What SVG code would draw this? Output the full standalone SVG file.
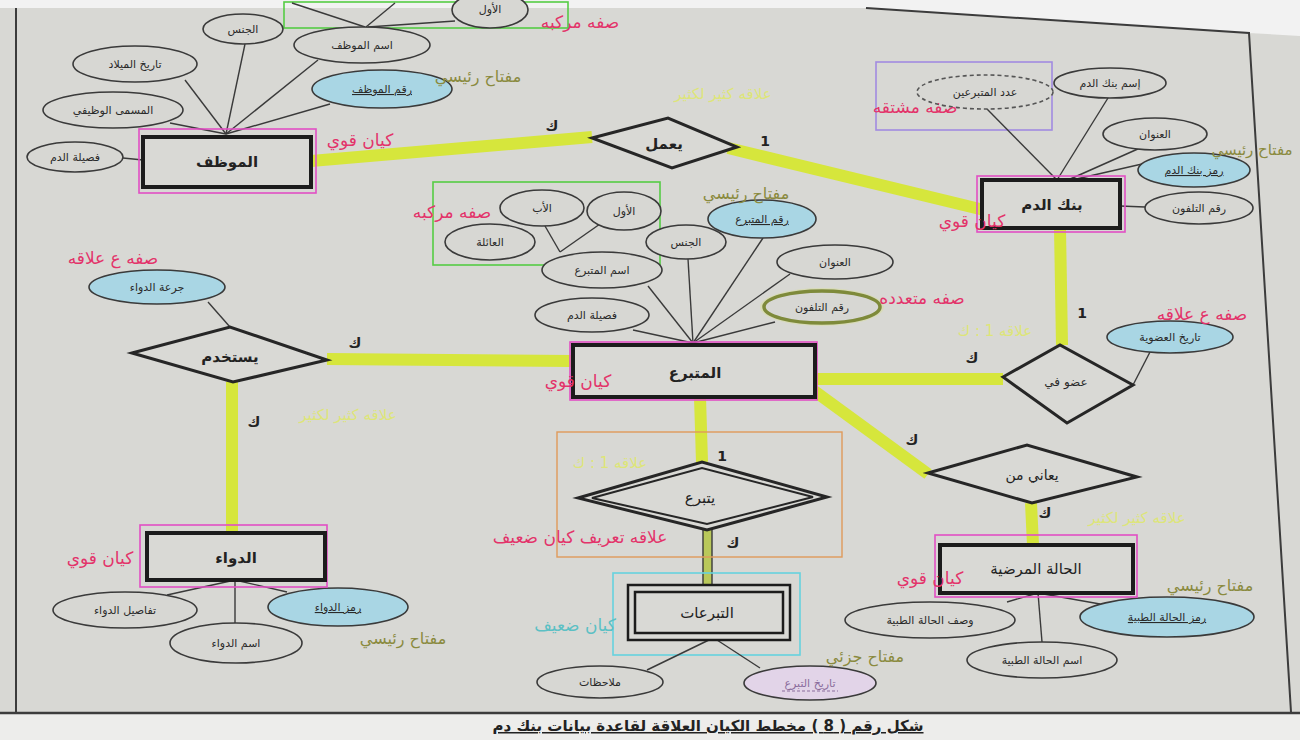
<svg xmlns="http://www.w3.org/2000/svg" width="1300" height="740" viewBox="0 0 1300 740">
<style>
.attr{fill:#d7d7d3;stroke:#3a3a3a;stroke-width:1.6}
.key{fill:#a9d6e4;stroke:#3a3a3a;stroke-width:1.6}
.ent{fill:#d9d9d5;stroke:#1c1c1c;stroke-width:4}
.rel{fill:#d9d9d5;stroke:#262626;stroke-width:3}
.ln{stroke:#3a3a3a;stroke-width:1.4;fill:none}
.conn{stroke:#d6e63c;stroke-width:12;fill:none}
.t{font-family:"DejaVu Sans",sans-serif;text-anchor:middle}
.al{font-size:11px;fill:#2a2a2a}
.el{font-size:15px;font-weight:bold;fill:#222}
.card{font-size:14px;font-weight:bold;fill:#222}
.red{font-size:17px;fill:#e3336a}
.olive{font-size:16px;fill:#8a8a3e}
.yl{font-size:15px;fill:#dfe86a;opacity:.85}
.pink{fill:none;stroke:#e24fc4;stroke-width:1.6}
.u{text-decoration:underline}
</style>
<rect x="0" y="0" width="1300" height="740" fill="#d8d8d4"/>
<polygon points="0,0 1300,0 1300,36 1249,33 866,8 0,8" fill="#f2f2f2"/>
<rect x="0" y="714" width="1300" height="26" fill="#ededeb"/>
<g id="page-border" fill="none" stroke="#3c3c3c">
<line x1="16" y1="8" x2="16" y2="713" stroke-width="2"/>
<polyline points="866,8 1249,33 1291,712" stroke-width="2"/>
<line x1="0" y1="713" x2="1300" y2="713" stroke-width="2.5"/>
</g>
<g id="connectors">
<line class="conn" x1="311" y1="161" x2="592" y2="137" stroke-width="13"/>
<line class="conn" x1="728" y1="148" x2="984" y2="210"/>
<line class="conn" x1="1060" y1="228" x2="1062" y2="345"/>
<line class="conn" x1="815" y1="379" x2="1003" y2="379"/>
<line class="conn" x1="813" y1="390" x2="928" y2="474"/>
<line class="conn" x1="1031" y1="503" x2="1033" y2="545"/>
<line class="conn" x1="700" y1="397" x2="702" y2="462"/>
<line class="conn" x1="327" y1="359" x2="573" y2="361"/>
<line class="conn" x1="232" y1="382" x2="232" y2="533"/>
<rect x="703" y="528" width="9" height="57" fill="#b9c85a"/>
<line class="ln" x1="703" y1="528" x2="703" y2="585"/>
<line class="ln" x1="712" y1="528" x2="712" y2="585"/>
</g>
<g id="employee">
<rect x="284" y="2" width="284" height="26" fill="none" stroke="#55cc44" stroke-width="1.6"/>
<line class="ln" x1="292" y1="3" x2="365" y2="27"/>
<line class="ln" x1="395" y1="3" x2="366" y2="27"/>
<line class="ln" x1="455" y1="21" x2="368" y2="27"/>
<ellipse class="attr" cx="490" cy="10" rx="38" ry="18"/>
<text class="t al" x="490" y="13">الأول</text>
<line class="ln" x1="226" y1="134" x2="185" y2="80"/>
<line class="ln" x1="226" y1="134" x2="245" y2="44"/>
<line class="ln" x1="226" y1="134" x2="318" y2="60"/>
<line class="ln" x1="226" y1="134" x2="330" y2="104"/>
<line class="ln" x1="226" y1="134" x2="170" y2="123"/>
<line class="ln" x1="123" y1="158" x2="143" y2="160"/>
<ellipse class="attr" cx="243" cy="29" rx="40" ry="15"/>
<text class="t al" x="243" y="33">الجنس</text>
<ellipse class="attr" cx="135" cy="64" rx="62" ry="18"/>
<text class="t al" x="135" y="68">تاريخ الميلاد</text>
<ellipse class="attr" cx="362" cy="45" rx="68" ry="18"/>
<text class="t al" x="362" y="49">اسم الموظف</text>
<ellipse class="key" cx="382" cy="89" rx="70" ry="19"/>
<text class="t al u" x="382" y="93">رقم الموظف</text>
<ellipse class="attr" cx="113" cy="110" rx="70" ry="18"/>
<text class="t al" x="113" y="114">المسمى الوظيفي</text>
<ellipse class="attr" cx="75" cy="157" rx="48" ry="15"/>
<text class="t al" x="75" y="161">فصيلة الدم</text>
<rect class="pink" x="139" y="129" width="177" height="64"/>
<rect class="ent" x="143" y="137" width="168" height="50"/>
<text class="t el" x="227" y="167">الموظف</text>
</g>
<g id="works">
<polygon class="rel" points="592,138 668,118 737,147 672,168"/>
<text class="t el" x="664" y="149">يعمل</text>
</g>
<g id="bloodbank">
<rect x="876" y="62" width="176" height="68" fill="none" stroke="#a28be0" stroke-width="1.6"/>
<line class="ln" x1="1057" y1="180" x2="987" y2="109"/>
<line class="ln" x1="1057" y1="180" x2="1108" y2="98"/>
<line class="ln" x1="1068" y1="180" x2="1140" y2="148"/>
<line class="ln" x1="1072" y1="180" x2="1142" y2="164"/>
<line class="ln" x1="1120" y1="206" x2="1145" y2="207"/>
<ellipse cx="985" cy="92" rx="68" ry="17" fill="#d7d7d3" stroke="#555" stroke-width="1.6" stroke-dasharray="4 3"/>
<text class="t al" x="985" y="96">عدد المتبرعين</text>
<ellipse class="attr" cx="1110" cy="83" rx="56" ry="15"/>
<text class="t al" x="1110" y="87">إسم بنك الدم</text>
<ellipse class="attr" cx="1155" cy="134" rx="52" ry="16"/>
<text class="t al" x="1155" y="138">العنوان</text>
<ellipse class="key" cx="1194" cy="170" rx="56" ry="17"/>
<text class="t al u" x="1194" y="174">رمز بنك الدم</text>
<ellipse class="attr" cx="1199" cy="208" rx="54" ry="16"/>
<text class="t al" x="1199" y="212">رقم التلفون</text>
<rect class="pink" x="977" y="176" width="148" height="56"/>
<rect class="ent" x="982" y="180" width="138" height="48"/>
<text class="t el" x="1052" y="210">بنك الدم</text>
</g>
<g id="donor">
<rect x="433" y="182" width="227" height="83" fill="none" stroke="#55cc44" stroke-width="1.6"/>
<line class="ln" x1="545" y1="226" x2="560" y2="252"/>
<line class="ln" x1="600" y1="224" x2="560" y2="252"/>
<line class="ln" x1="693" y1="343" x2="633" y2="330"/>
<line class="ln" x1="693" y1="343" x2="648" y2="286"/>
<line class="ln" x1="693" y1="343" x2="688" y2="259"/>
<line class="ln" x1="693" y1="343" x2="763" y2="238"/>
<line class="ln" x1="693" y1="343" x2="790" y2="274"/>
<line class="ln" x1="693" y1="343" x2="775" y2="322"/>
<ellipse class="attr" cx="542" cy="208" rx="42" ry="18"/>
<text class="t al" x="542" y="212">الأب</text>
<ellipse class="attr" cx="624" cy="211" rx="37" ry="19"/>
<text class="t al" x="624" y="215">الأول</text>
<ellipse class="attr" cx="490" cy="242" rx="45" ry="18"/>
<text class="t al" x="490" y="246">العائلة</text>
<ellipse class="attr" cx="602" cy="270" rx="60" ry="18"/>
<text class="t al" x="602" y="274">اسم المتبرع</text>
<ellipse class="attr" cx="686" cy="242" rx="40" ry="17"/>
<text class="t al" x="686" y="246">الجنس</text>
<ellipse class="key" cx="762" cy="219" rx="54" ry="19"/>
<text class="t al u" x="762" y="223">رقم المتبرع</text>
<ellipse class="attr" cx="835" cy="262" rx="58" ry="17"/>
<text class="t al" x="835" y="266">العنوان</text>
<ellipse cx="822" cy="307" rx="62" ry="19" fill="#d8dcb0" stroke="none" opacity=".8"/>
<ellipse cx="822" cy="307" rx="58" ry="16" fill="#d7d7d3" stroke="#7e8a3a" stroke-width="3.5"/>
<text class="t al" x="822" y="311">رقم التلفون</text>
<ellipse class="attr" cx="592" cy="315" rx="57" ry="17"/>
<text class="t al" x="592" y="319">فصيلة الدم</text>
<rect class="pink" x="570" y="342" width="247" height="58"/>
<rect class="ent" x="573" y="345" width="242" height="52" stroke-width="3.5"/>
<text class="t el" x="695" y="378">المتبرع</text>
</g>
<g id="uses">
<line class="ln" x1="208" y1="302" x2="230" y2="327"/>
<ellipse class="key" cx="157" cy="287" rx="68" ry="17"/>
<text class="t al" x="157" y="291">جرعة الدواء</text>
<polygon class="rel" points="132,353 230,327 327,360 233,382"/>
<text class="t el" x="230" y="362">يستخدم</text>
</g>
<g id="medicine">
<line class="ln" x1="235" y1="580" x2="167" y2="595"/>
<line class="ln" x1="235" y1="580" x2="235" y2="623"/>
<line class="ln" x1="235" y1="580" x2="287" y2="592"/>
<ellipse class="attr" cx="125" cy="610" rx="72" ry="18"/>
<text class="t al" x="125" y="614">تفاصيل الدواء</text>
<ellipse class="attr" cx="236" cy="643" rx="66" ry="20"/>
<text class="t al" x="236" y="647">اسم الدواء</text>
<ellipse class="key" cx="338" cy="607" rx="70" ry="19"/>
<text class="t al u" x="338" y="611">رمز الدواء</text>
<rect class="pink" x="140" y="525" width="187" height="62"/>
<rect class="ent" x="147" y="533" width="178" height="47"/>
<text class="t el" x="236" y="563">الدواء</text>
</g>
<g id="member-of">
<line class="ln" x1="1150" y1="352" x2="1133" y2="385"/>
<ellipse class="key" cx="1170" cy="337" rx="63" ry="16"/>
<text class="t al" x="1170" y="341">تاريخ العضوية</text>
<polygon class="rel" points="1003,377 1060,345 1133,385 1067,423"/>
<text class="t al" x="1066" y="386" style="font-size:12px">عضو في</text>
</g>
<g id="suffers-from">
<polygon class="rel" points="928,473 1027,445 1137,477 1032,503"/>
<text class="t el" x="1032" y="480" style="font-size:14px;font-weight:normal">يعاني من</text>
</g>
<g id="condition">
<line class="ln" x1="1038" y1="593" x2="1007" y2="602"/>
<line class="ln" x1="1038" y1="593" x2="1042" y2="642"/>
<line class="ln" x1="1038" y1="593" x2="1100" y2="604"/>
<ellipse class="attr" cx="930" cy="620" rx="85" ry="18"/>
<text class="t al" x="930" y="624">وصف الحالة الطبية</text>
<ellipse class="attr" cx="1042" cy="660" rx="75" ry="18"/>
<text class="t al" x="1042" y="664">اسم الحالة الطبية</text>
<ellipse class="key" cx="1167" cy="617" rx="87" ry="20"/>
<text class="t al u" x="1167" y="621">رمز الحالة الطبية</text>
<rect class="pink" x="935" y="535" width="202" height="62"/>
<rect class="ent" x="940" y="545" width="193" height="48"/>
<text class="t el" x="1036" y="574" style="font-weight:normal">الحالة المرضية</text>
</g>
<g id="donates">
<rect x="557" y="432" width="285" height="125" fill="none" stroke="#e09a5a" stroke-width="1.4"/>
<polygon class="rel" points="578,498 702,462 827,497 707,530" stroke-width="2.5"/>
<polygon points="592,498 702,468 813,497 707,524" fill="none" stroke="#262626" stroke-width="2"/>
<text class="t el" x="700" y="503" style="font-weight:normal">يتبرع</text>
</g>
<g id="donations">
<rect x="613" y="573" width="187" height="82" fill="none" stroke="#66d2de" stroke-width="1.6"/>
<line class="ln" x1="713" y1="638" x2="647" y2="670"/>
<line class="ln" x1="717" y1="640" x2="760" y2="668"/>
<rect x="628" y="585" width="162" height="55" fill="#d9d9d5" stroke="#1c1c1c" stroke-width="2.5"/>
<rect x="635" y="592" width="148" height="41" fill="none" stroke="#1c1c1c" stroke-width="2.5"/>
<text class="t el" x="707" y="618" style="font-weight:normal">التبرعات</text>
<ellipse class="attr" cx="600" cy="682" rx="63" ry="16"/>
<text class="t al" x="600" y="686">ملاحظات</text>
<ellipse cx="810" cy="683" rx="66" ry="17" fill="#e2d4e8" stroke="#3a3a3a" stroke-width="1.6"/>
<text class="t al" x="810" y="687" style="fill:#8a6c9c">تاريخ التبرع</text>
<line x1="782" y1="691" x2="838" y2="691" stroke="#8a6c9c" stroke-width="1" stroke-dasharray="3 2"/>
</g>
<g id="cardinalities" class="t card">
<text x="552" y="131">ك</text>
<text x="765" y="146">1</text>
<text x="1082" y="318">1</text>
<text x="972" y="363">ك</text>
<text x="912" y="445">ك</text>
<text x="1045" y="518">ك</text>
<text x="722" y="461">1</text>
<text x="733" y="548">ك</text>
<text x="355" y="348">ك</text>
<text x="254" y="427">ك</text>
</g>
<g id="annotations" class="t">
<text class="red" x="580" y="28">صفه مركبه</text>
<text class="red" x="452" y="218">صفه مركبه</text>
<text class="red" x="360" y="146">كيان قوي</text>
<text class="red" x="915" y="113">صفه مشتقه</text>
<text class="red" x="972" y="227">كيان قوي</text>
<text class="red" x="113" y="264">صفه ع علاقه</text>
<text class="red" x="1202" y="320">صفه ع علاقه</text>
<text class="red" x="922" y="304">صفه متعدده</text>
<text class="red" x="578" y="387">كيان قوي</text>
<text class="red" x="580" y="543">علاقه تعريف  كيان ضعيف</text>
<text class="red" x="100" y="564">كيان قوي</text>
<text class="red" x="930" y="584">كيان قوي</text>
<text class="olive" x="478" y="82">مفتاح رئيسي</text>
<text class="olive" x="1252" y="155" style="font-size:15px">مفتاح رئيسي</text>
<text class="olive" x="746" y="199">مفتاح رئيسي</text>
<text class="olive" x="403" y="644">مفتاح رئيسي</text>
<text class="olive" x="1210" y="591">مفتاح رئيسي</text>
<text class="olive" x="865" y="662">مفتاح جزئي</text>
<text x="575" y="631" style="font-size:17px;fill:#5cc0c4">كيان ضعيف</text>
<text class="yl" x="723" y="99">علاقه كثير لكثير</text>
<text class="yl" x="348" y="420">علاقه كثير لكثير</text>
<text class="yl" x="995" y="336" direction="rtl">علاقه 1 : ك</text>
<text class="yl" x="610" y="468" direction="rtl">علاقه 1 : ك</text>
<text class="yl" x="1137" y="523">علاقه كثير لكثير</text>
</g>
<text class="t u" x="708" y="731" direction="rtl" style="font-size:15px;font-weight:bold;fill:#222">شكل رقم ( 8 ) مخطط الكيان العلاقة لقاعدة بيانات بنك دم</text>
</svg>
